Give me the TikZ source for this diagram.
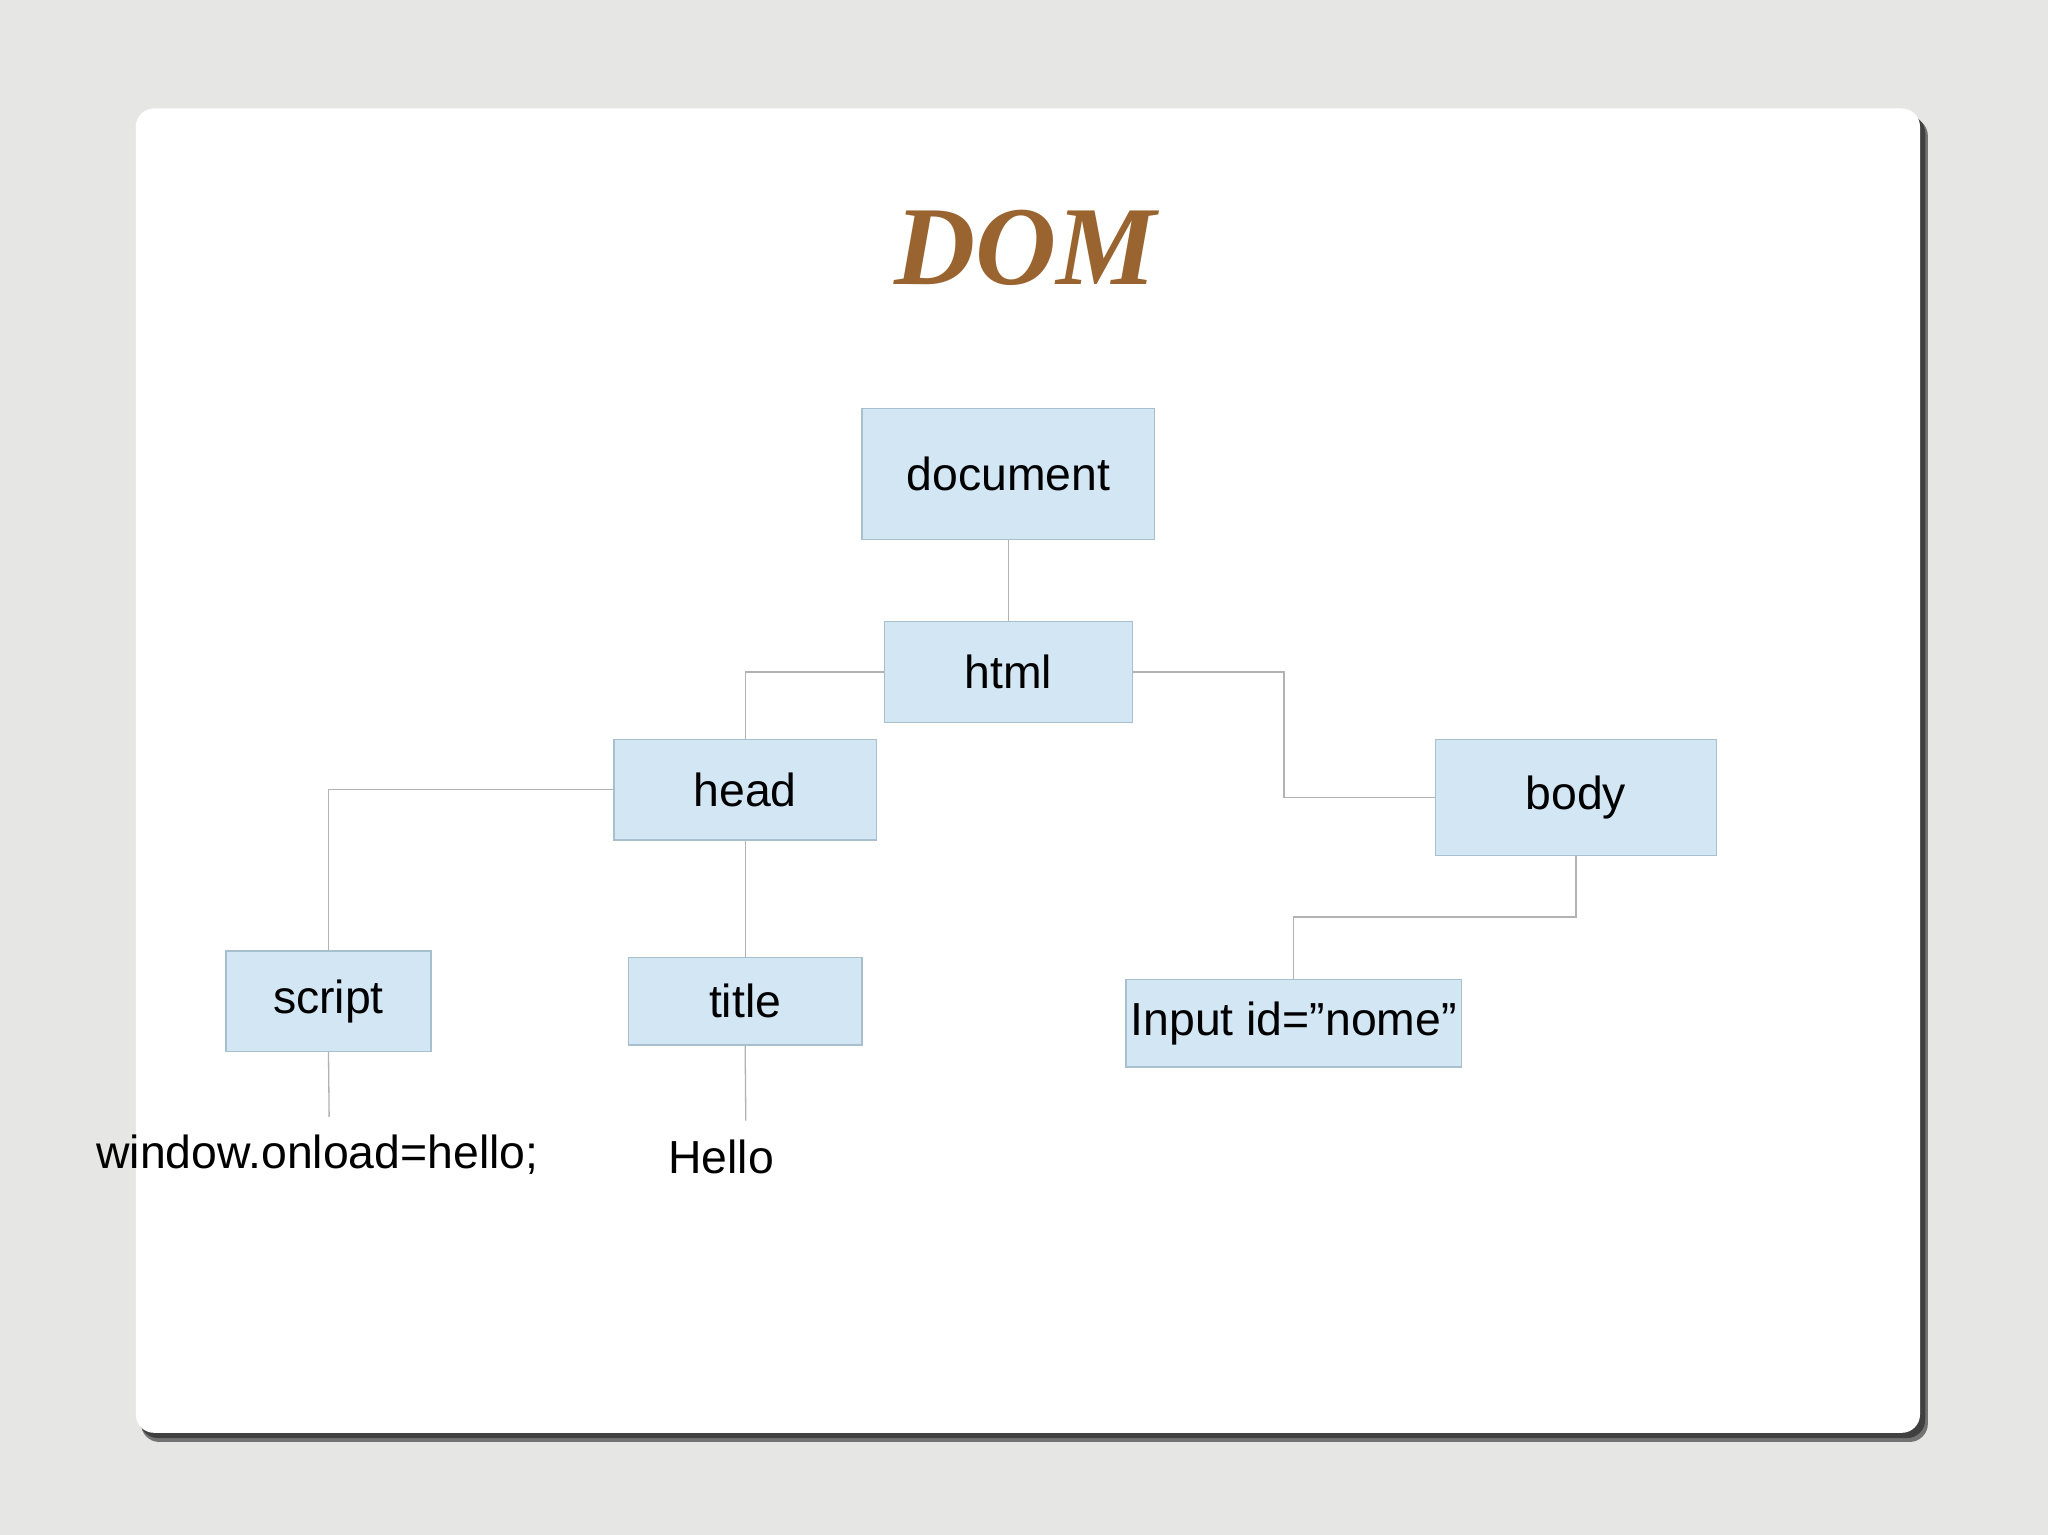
\documentclass[tikz,border=0pt]{standalone}
\usepackage{fontspec}
\setmainfont{Liberation Sans}
\newfontfamily\titlefont{Liberation Serif}
\definecolor{boxfill}{HTML}{D2E6F4}
\definecolor{boxline}{HTML}{A8BFCF}
\definecolor{titlebrown}{HTML}{9A6430}
\definecolor{bg}{HTML}{E6E6E4}
\tikzset{
  box/.style={draw=boxline, fill=boxfill, line width=1pt, inner sep=0pt, font=\fontsize{35.5}{40}\selectfont},
  conn/.style={draw=black!30, line width=1pt},
  leaf/.style={inner sep=0pt, font=\fontsize{35.5}{40}\selectfont}
}
\begin{document}
\begin{tikzpicture}[x=1pt,y=-1pt]
\useasboundingbox (0,0) rectangle (1568,1175);
\fill[bg] (0,0) rectangle (1568,1175);
\fill[black!55, rounded corners=14pt] (108,90) rectangle (1476,1104);
\fill[black!75, rounded corners=14pt] (107,88) rectangle (1474,1101);
\fill[white, rounded corners=14pt] (104,83) rectangle (1470,1097);
\node[font=\titlefont\bfseries\itshape\fontsize{86}{90}\selectfont, text=titlebrown] (ttl) at (785,190) {DOM};
\node[box, minimum width=224, minimum height=100] (doc) at (772,363) {document};
\node[box, minimum width=190, minimum height=77] (html) at (772,514.5) {html};
\node[box, minimum width=201, minimum height=77] (head) at (570.5,604.5) {head};
\node[box, minimum width=215, minimum height=89] (body) at (1206.5,610.5) {body};
\node[box, minimum width=157, minimum height=77] (script) at (251.5,766.5) {script};
\node[box, minimum width=179, minimum height=67] (title) at (570.5,766.5) {title};
\node[box, minimum width=257, minimum height=67] (input) at (990.5,783.5) {Input id=”nome”};
\node[leaf] (win) at (243,884) {window.onload=hello;};
\node[leaf] (hello) at (552,886) {Hello};
\coordinate (wtop) at (252,855);
\coordinate (htop) at (571,858);
\draw[conn] (doc.south) -- (html.north);
\draw[conn] (html.west) -| (head.north);
\draw[conn] (html.east) -- (983,514.5) |- (body.west);
\draw[conn] (head.west) -| (script.north);
\draw[conn] (head.south) -- (title.north);
\draw[conn] (body.south) -- (1206.5,702) -| (input.north);
\draw[conn] (script.south) -- (wtop);
\draw[conn] (title.south) -- (htop);
\end{tikzpicture}
\end{document}
